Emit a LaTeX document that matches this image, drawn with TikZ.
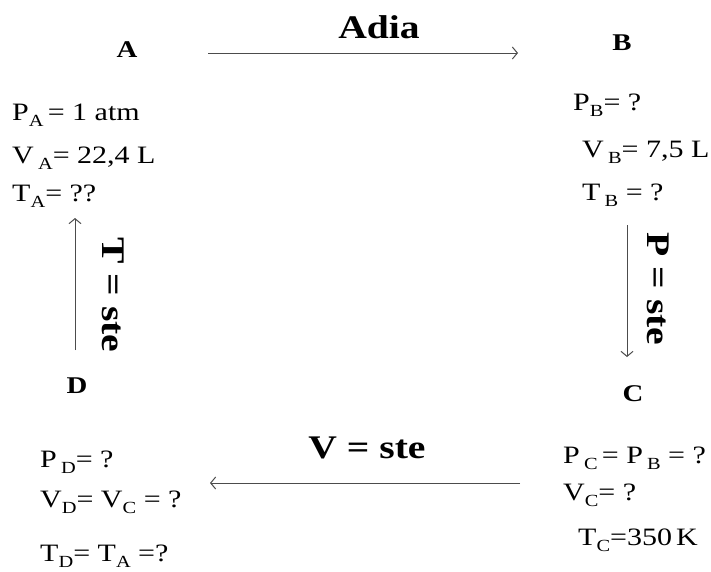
\documentclass[tikz,border=0pt]{standalone}
\usepackage{fontspec}
\setmainfont{Liberation Serif}[FakeStretch=1.2]
\usetikzlibrary{arrows.meta}
\newcommand\lowsub[1]{\raisebox{-6pt}{\fontsize{17}{17}\selectfont #1}}
\tikzset{state/.style={font=\bfseries\fontsize{24}{24}\selectfont, inner sep=0pt},
val/.style={anchor=base west, inner sep=0pt, font=\fontsize{25}{25}\selectfont},
proc/.style={font=\bfseries\fontsize{33}{33}\selectfont, inner sep=0pt},
line/.style={-{Straight Barb[length=5pt,width=12pt]}, line width=1pt, draw=black!70}
}

\begin{document}
\begin{tikzpicture}[x=1pt,y=-1pt]
\useasboundingbox (0,0) rectangle (711,571);
% the four states
\node[state] (A) at (127,50) {A};
\node[state] (B) at (622,43) {B};
\node[state] (C) at (633,394) {C};
\node[state] (D) at (77,386) {D};
% values of each state
\node[val] (pA) at (12,120) {P\lowsub{A}\,= 1 atm};
\node[val] (vA) at (12,163) {V\,\lowsub{A}= 22,4 L};
\node[val] (tA) at (12,201) {T\lowsub{A}= ??};
\node[val] (pB) at (573,110) {P\lowsub{B}= ?};
\node[val] (vB) at (582,157) {V\,\lowsub{B}= 7,5 L};
\node[val] (tB) at (582,200) {T\,\lowsub{B} = ?};
\node[val] (pC) at (563,463) {P\,\lowsub{C}\,= P\,\lowsub{B} = ?};
\node[val] (vC) at (563,500) {V\lowsub{C}= ?};
\node[val] (tC) at (578,545) {T\lowsub{C}=350\,K};
\node[val] (pD) at (40,467) {P\,\lowsub{D}= ?};
\node[val] (vD) at (40,507) {V\lowsub{D}= V\lowsub{C} = ?};
\node[val] (tD) at (40,561) {T\lowsub{D}= T\lowsub{A} =?};
% ends of the arrows
\coordinate (ab0) at (208,53);
\coordinate (ab1) at (518,53);
\coordinate (bc0) at (627,225);
\coordinate (bc1) at (627,357);
\coordinate (cd0) at (520,483);
\coordinate (cd1) at (210,483);
\coordinate (da0) at (75,350);
\coordinate (da1) at (75,218);
\draw[line] (ab0) -- (ab1);
\draw[line] (bc0) -- (bc1);
\draw[line] (cd0) -- (cd1);
\draw[line] (da0) -- (da1);
% the transformations
\node[proc, anchor=base] (adia) at (379,38) {Adia};
\node[proc, anchor=base] (vste) at (367,458) {V = ste};
\node[proc, rotate=-90] (tste) at (113,295) {T = ste};
\node[proc, rotate=-90] (pste) at (658,289) {P = ste};
\end{tikzpicture}
\end{document}
